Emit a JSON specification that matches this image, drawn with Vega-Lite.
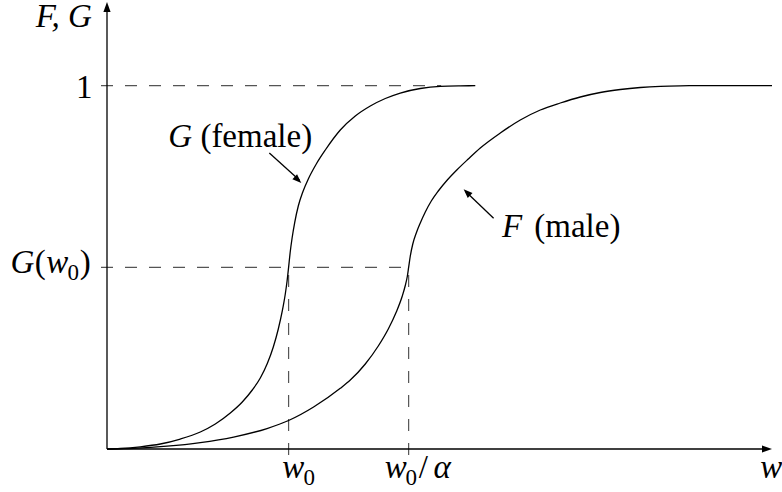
{
  "$schema": "https://vega.github.io/schema/vega-lite/v6.json",
  "width": 665,
  "height": 447,
  "autosize": {"type": "none"},
  "padding": {"left": 107, "top": 2, "right": 10, "bottom": 43},
  "background": "white",
  "config": {"view": {"stroke": null}, "font": "Liberation Serif"},
  "datasets": {
    "G": [
      {"x": 0, "y": 0}, {"x": 0.0732, "y": 0.0014}, {"x": 0.1834, "y": 0.0061}, {"x": 0.2935, "y": 0.0138},
      {"x": 0.4036, "y": 0.0275}, {"x": 0.5138, "y": 0.0468}, {"x": 0.5964, "y": 0.0688}, {"x": 0.679, "y": 0.0991},
      {"x": 0.745, "y": 0.1294}, {"x": 0.8001, "y": 0.1624}, {"x": 0.8442, "y": 0.1954}, {"x": 0.8827, "y": 0.2353},
      {"x": 0.9158, "y": 0.2808}, {"x": 0.9433, "y": 0.3303}, {"x": 0.9653, "y": 0.3799}, {"x": 0.9818, "y": 0.4266},
      {"x": 0.9917, "y": 0.4624}, {"x": 1.0, "y": 0.5}, {"x": 1.0083, "y": 0.5395}, {"x": 1.0193, "y": 0.5808},
      {"x": 1.0341, "y": 0.6248}, {"x": 1.0534, "y": 0.6689}, {"x": 1.0782, "y": 0.7074}, {"x": 1.1085, "y": 0.7432},
      {"x": 1.1525, "y": 0.7845}, {"x": 1.2021, "y": 0.823}, {"x": 1.2847, "y": 0.8781}, {"x": 1.3673, "y": 0.9166},
      {"x": 1.4499, "y": 0.9441}, {"x": 1.5325, "y": 0.9648}, {"x": 1.6151, "y": 0.9799}, {"x": 1.7252, "y": 0.9923},
      {"x": 1.8354, "y": 0.9983}, {"x": 1.9455, "y": 0.9997}, {"x": 2.0281, "y": 1.0}
    ],
    "F": [
      {"x": 0, "y": 0}, {"x": 0.1465, "y": 0.0019}, {"x": 0.3304, "y": 0.0077}, {"x": 0.5138, "y": 0.0176},
      {"x": 0.6971, "y": 0.033}, {"x": 0.8811, "y": 0.0564}, {"x": 1.0, "y": 0.0784}, {"x": 1.1377, "y": 0.1156},
      {"x": 1.2847, "y": 0.1671}, {"x": 1.3398, "y": 0.1899}, {"x": 1.4224, "y": 0.234}, {"x": 1.4939, "y": 0.2835},
      {"x": 1.549, "y": 0.3303}, {"x": 1.593, "y": 0.3771}, {"x": 1.6261, "y": 0.4211}, {"x": 1.6426, "y": 0.45},
      {"x": 1.6536, "y": 0.4748}, {"x": 1.661, "y": 0.5}, {"x": 1.6702, "y": 0.5312}, {"x": 1.6839, "y": 0.5643},
      {"x": 1.7032, "y": 0.5946}, {"x": 1.7252, "y": 0.6221}, {"x": 1.7528, "y": 0.6524}, {"x": 1.7858, "y": 0.6826},
      {"x": 1.8243, "y": 0.7102}, {"x": 1.8739, "y": 0.7404}, {"x": 1.929, "y": 0.7693}, {"x": 1.9895, "y": 0.7982},
      {"x": 2.0556, "y": 0.8285}, {"x": 2.1658, "y": 0.8698}, {"x": 2.2759, "y": 0.9056}, {"x": 2.386, "y": 0.9331},
      {"x": 2.4962, "y": 0.9524}, {"x": 2.6063, "y": 0.9689}, {"x": 2.7164, "y": 0.9813}, {"x": 2.8266, "y": 0.9895},
      {"x": 2.9367, "y": 0.995}, {"x": 3.0468, "y": 0.9983}, {"x": 3.157, "y": 0.9997}, {"x": 3.2395, "y": 1.0},
      {"x": 3.662, "y": 1.0}
    ],
    "hdash": [
      {"x": -0.033, "x2": 1.84, "y": 1.0},
      {"x": -0.033, "x2": 1.661, "y": 0.5}
    ],
    "vdash": [
      {"x": 1.0, "y": -0.0165, "y2": 0.5},
      {"x": 1.661, "y": -0.0165, "y2": 0.5}
    ],
    "axes": [
      {"x": 0, "y": 0, "x2": 3.63, "y2": 0},
      {"x": 0, "y": 0, "x2": 0, "y2": 1.21}
    ],
    "xtip": [{"x": 3.662, "y": 0}],
    "ytip": [{"x": 0, "y": 1.2304}],
    "arrows": [
      {"x": 0.894, "y": 0.8147, "x2": 1.06, "y2": 0.74},
      {"x": 2.129, "y": 0.635, "x2": 1.975, "y2": 0.709}
    ],
    "gtip": [{"x": 1.07, "y": 0.7322}],
    "ftip": [{"x": 1.964, "y": 0.7148}],
    "italic": [
      {"x": -0.238, "y": 1.1616, "t": "F, G"},
      {"x": -0.466, "y": 0.4844, "t": "G"},
      {"x": -0.274, "y": 0.4844, "t": "w"},
      {"x": 1.026, "y": -0.0798, "t": "w"},
      {"x": 1.59, "y": -0.0798, "t": "w"},
      {"x": 3.658, "y": -0.0798, "t": "w"},
      {"x": 0.4036, "y": 0.8313, "t": "G"},
      {"x": 2.23, "y": 0.5835, "t": "F"}
    ],
    "greek": [
      {"x": 1.845, "y": -0.0798, "t": "α"}
    ],
    "upright": [
      {"x": -0.125, "y": 0.9661, "t": "1"},
      {"x": -0.367, "y": 0.4844, "t": "("},
      {"x": -0.1195, "y": 0.4844, "t": ")"},
      {"x": 1.7417, "y": -0.0798, "t": "/"},
      {"x": 0.822, "y": 0.8313, "t": "(female)"},
      {"x": 2.59, "y": 0.5835, "t": "(male)"}
    ],
    "sub": [
      {"x": -0.186, "y": 0.4652, "t": "0"},
      {"x": 1.114, "y": -0.0991, "t": "0"},
      {"x": 1.676, "y": -0.0991, "t": "0"}
    ]
  },
  "encoding": {
    "x": {"field": "x", "type": "quantitative", "scale": {"domain": [0, 3.662], "nice": false, "zero": false}, "axis": null},
    "y": {"field": "y", "type": "quantitative", "scale": {"domain": [0, 1.2304], "nice": false, "zero": false}, "axis": null}
  },
  "layer": [
    {
      "data": {"name": "upright"},
      "mark": {"type": "text", "font": "Liberation Serif", "fontSize": 33, "align": "center", "baseline": "alphabetic", "color": "black"},
      "encoding": {"text": {"field": "t"}}
    },
    {
      "data": {"name": "italic"},
      "mark": {"type": "text", "font": "Liberation Serif", "fontSize": 33, "fontStyle": "italic", "align": "center", "baseline": "alphabetic", "color": "black"},
      "encoding": {"text": {"field": "t"}}
    },
    {
      "data": {"name": "sub"},
      "mark": {"type": "text", "font": "Liberation Serif", "fontSize": 23, "align": "center", "baseline": "alphabetic", "color": "black"},
      "encoding": {"text": {"field": "t"}}
    },
    {
      "data": {"name": "greek"},
      "mark": {"type": "text", "font": "Liberation Serif", "fontSize": 33, "fontStyle": "italic", "align": "center", "baseline": "alphabetic", "color": "black"},
      "encoding": {"text": {"field": "t"}}
    },
    {
      "data": {"name": "hdash"},
      "mark": {"type": "rule", "color": "#555555", "strokeWidth": 1.2, "strokeDash": [12, 12]},
      "encoding": {"x2": {"field": "x2"}}
    },
    {
      "data": {"name": "vdash"},
      "mark": {"type": "rule", "color": "#555555", "strokeWidth": 1.2, "strokeDash": [12, 12]},
      "encoding": {"y2": {"field": "y2"}}
    },
    {
      "data": {"name": "axes"},
      "mark": {"type": "rule", "color": "black", "strokeWidth": 1.3},
      "encoding": {"x2": {"field": "x2"}, "y2": {"field": "y2"}}
    },
    {
      "data": {"name": "G"},
      "mark": {"type": "line", "color": "black", "strokeWidth": 1.3, "interpolate": "monotone"},
      "encoding": {}
    },
    {
      "data": {"name": "F"},
      "mark": {"type": "line", "color": "black", "strokeWidth": 1.3, "interpolate": "monotone"},
      "encoding": {}
    },
    {
      "data": {"name": "arrows"},
      "mark": {"type": "rule", "color": "black", "strokeWidth": 1.3},
      "encoding": {"x2": {"field": "x2"}, "y2": {"field": "y2"}}
    },
    {
      "data": {"name": "xtip"},
      "mark": {"type": "point", "shape": "M0,0L-1,-0.36L-1,0.36Z", "filled": true, "color": "black", "opacity": 1, "size": 400, "angle": 0, "strokeWidth": 0}
    },
    {
      "data": {"name": "ytip"},
      "mark": {"type": "point", "shape": "M0,0L-1,-0.36L-1,0.36Z", "filled": true, "color": "black", "opacity": 1, "size": 400, "angle": 270, "strokeWidth": 0}
    },
    {
      "data": {"name": "gtip"},
      "mark": {"type": "point", "shape": "M0,0L-1,-0.38L-1,0.38Z", "filled": true, "color": "black", "opacity": 1, "size": 324, "angle": 43, "strokeWidth": 0}
    },
    {
      "data": {"name": "ftip"},
      "mark": {"type": "point", "shape": "M0,0L-1,-0.38L-1,0.38Z", "filled": true, "color": "black", "opacity": 1, "size": 324, "angle": 224, "strokeWidth": 0}
    }
  ]
}
